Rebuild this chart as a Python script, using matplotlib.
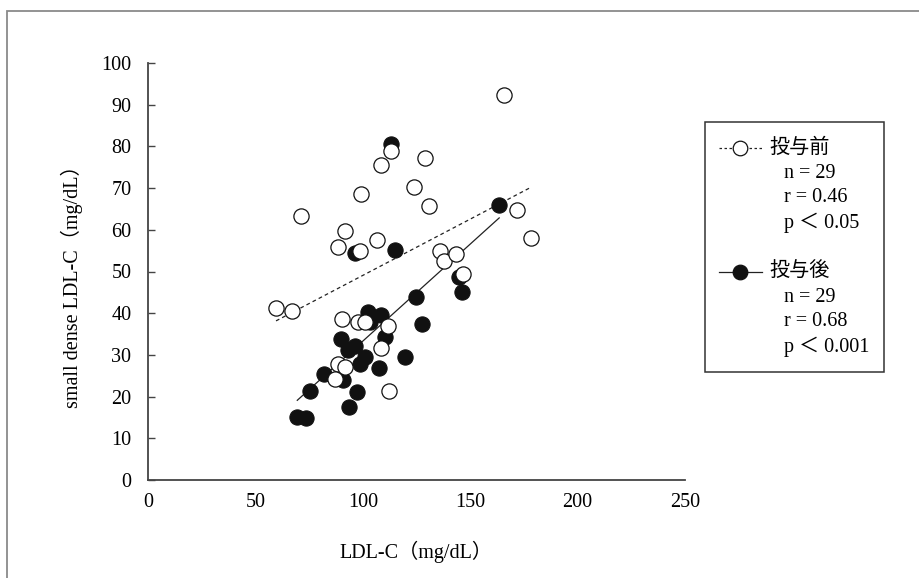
import matplotlib
matplotlib.use("Agg")
import matplotlib.pyplot as plt
import numpy as np
from matplotlib.lines import Line2D
from matplotlib.patches import Rectangle

plt.rcParams['font.family'] = ['Liberation Serif', 'Noto Sans CJK JP', 'DejaVu Sans']

# 投与前 (open circles)
pre_x = [59.6, 66.9, 71.2, 88.6, 91.9, 99.3, 98.7, 106.4, 108.3, 113.3,
         124.0, 129.0, 130.7, 135.8, 137.6, 143.4, 146.8, 165.7, 171.6, 178.3,
         90.3, 97.9, 101.0, 111.6, 108.3, 88.5, 91.5, 87.1, 112.3]
pre_y = [41.2, 40.5, 63.4, 55.8, 59.8, 68.6, 54.8, 57.6, 75.5, 79.0,
         70.3, 77.1, 65.7, 54.8, 52.5, 54.2, 49.4, 92.3, 64.7, 58.0,
         38.5, 38.0, 38.0, 36.9, 31.7, 27.8, 27.2, 24.2, 21.3]

# 投与後 (filled circles)
post_x = [113.3, 115.0, 96.2, 163.5, 144.8, 146.2, 102.5, 108.3, 103.4, 110.2,
          124.9, 127.7, 90.0, 96.4, 93.2, 101.0, 98.7, 107.4, 119.8, 82.0,
          91.0, 75.4, 97.5, 93.7, 69.5, 73.4]
post_y = [80.6, 55.1, 54.4, 66.0, 48.8, 45.2, 40.2, 39.5, 38.0, 34.4,
          43.9, 37.4, 33.8, 32.2, 31.2, 29.4, 27.7, 26.9, 29.6, 25.3,
          24.0, 21.3, 21.1, 17.6, 15.0, 14.8]

x_ticks = [0, 50, 100, 150, 200, 250]
y_ticks = [0, 10, 20, 30, 40, 50, 60, 70, 80, 90, 100]

legend_pre = ['投与前', 'n = 29', 'r = 0.46', 'p ＜ 0.05']
legend_post = ['投与後', 'n = 29', 'r = 0.68', 'p ＜ 0.001']

W, H = 920, 578
fig = plt.figure(figsize=(9.2, 5.78), dpi=100)
ax = fig.add_axes([148 / W, 1 - 480 / H, (685 - 148) / W, (480 - 63) / H])

# outer frame
fig.add_artist(Rectangle((7 / W, -0.05), 1.2, 1 - 11 / H + 0.05, transform=fig.transFigure,
                         fill=False, edgecolor='#8a8a8a', linewidth=1.3))

# regression lines
px = np.array(pre_x); py = np.array(pre_y)
k, b = np.polyfit(px, py, 1)
xx = np.array([px.min(), px.max()])
ax.plot(xx, k * xx + b, color='#222222', lw=0.9, ls=(0, (3, 2.5)), zorder=1)

qx = np.array(post_x); qy = np.array(post_y)
k2, b2 = np.polyfit(qx, qy, 1)
xx2 = np.array([qx.min(), qx.max()])
ax.plot(xx2, k2 * xx2 + b2, color='#222222', lw=0.9, zorder=1)

ax.scatter(post_x, post_y, s=120, facecolor='#111111', edgecolor='#111111', lw=0.8, zorder=2)
ax.scatter(pre_x, pre_y, s=120, facecolor='white', edgecolor='#111111', lw=0.9, zorder=3)

ax.set_xlim(0, 250)
ax.set_ylim(0, 100)
ax.set_xticks(x_ticks)
ax.set_yticks(y_ticks)
for s in ['top', 'right']:
    ax.spines[s].set_visible(False)
for s in ['left', 'bottom']:
    ax.spines[s].set_color('#444444')
    ax.spines[s].set_linewidth(1.3)
ax.tick_params(axis='y', direction='in', length=5, width=1, color='#444444', pad=12, labelsize=14.5)
ax.tick_params(axis='x', length=0, pad=9.5, labelsize=14.5)

fig.text(72 / W, 1 - 282 / H, 'small dense LDL-C（mg/dL）', rotation=90,
         ha='center', va='center', fontsize=14.5)
fig.text(416 / W, 1 - 552 / H, 'LDL-C（mg/dL）', ha='center', va='center', fontsize=14.5)

# legend box
fig.add_artist(Rectangle((705 / W, 1 - 372 / H), (884 - 705) / W, (372 - 122) / H,
                         transform=fig.transFigure, fill=False, edgecolor='#333333', linewidth=1.1))

def legend_block(y0, labels, ls, fc):
    yf = 1 - y0 / H
    fig.add_artist(Line2D([719 / W, 762 / W], [yf, yf], transform=fig.transFigure,
                          color='#222222', lw=0.9, ls=ls))
    fig.add_artist(Line2D([740 / W], [yf], transform=fig.transFigure, marker='o',
                          markersize=10.5, markerfacecolor=fc, markeredgecolor='#111111',
                          markeredgewidth=0.9, ls='none'))
    fig.text(769 / W, yf, labels[0], ha='left', va='center', fontsize=14.5)
    for i, t in enumerate(labels[1:]):
        fig.text(784 / W, 1 - (y0 + 25 * (i + 1)) / H, t, ha='left', va='center', fontsize=14.5)

legend_block(148, legend_pre, (0, (2, 2)), 'white')
legend_block(272, legend_post, '-', '#111111')

fig.savefig('out.png', dpi=100)
